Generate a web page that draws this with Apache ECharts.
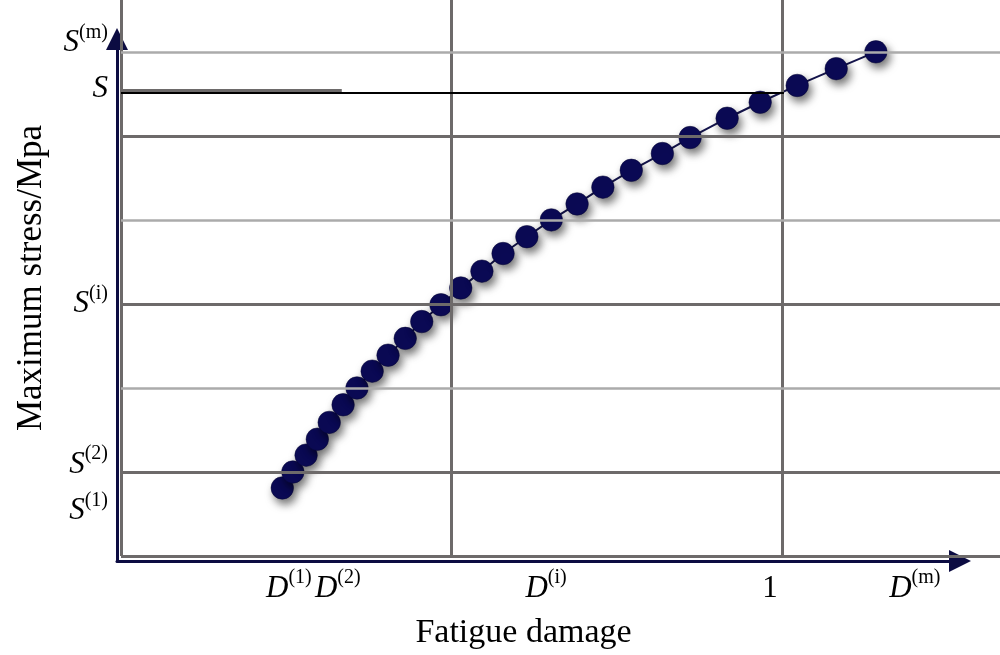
<!DOCTYPE html>
<html><head><meta charset="utf-8">
<script src="https://cdn.jsdelivr.net/npm/echarts@6/dist/echarts.min.js"></script>
<style>html,body{margin:0;padding:0;background:#fff}#c{width:1000px;height:655px}</style>
</head><body><div id="c"></div>
<script>
// Fatigue damage (x) — 1 corresponds to failure
const damage = [0.244, 0.260, 0.280, 0.297, 0.315, 0.336, 0.357, 0.380, 0.404, 0.430,
                0.455, 0.484, 0.514, 0.546, 0.578, 0.614, 0.651, 0.690, 0.729, 0.772,
                0.819, 0.861, 0.917, 0.967, 1.023, 1.082, 1.142];
// Maximum stress (y), arbitrary units
const stress = [0.81, 1.00, 1.20, 1.39, 1.59, 1.80, 2.00, 2.20, 2.39, 2.59,
                2.79, 2.99, 3.19, 3.39, 3.60, 3.80, 4.00, 4.19, 4.39, 4.59,
                4.79, 4.98, 5.21, 5.40, 5.60, 5.80, 6.00];

const xTickValues = [0.254, 0.328, 0.643, 0.982, 1.201];
const xTickMain   = ['D', 'D', 'D', '1', 'D'];
const xTickSup    = ['(1)', '(2)', '(i)', '', '(m)'];

const yTickValues = [0.610, 1.167, 3.075, 5.633, 6.179];
const yTickMain   = ['S', 'S', 'S', 'S', 'S'];
const yTickSup    = ['(1)', '(2)', '(i)', '', '(m)'];

const majorGridY = [0, 1, 3, 5];
const minorGridY = [2, 4, 6];
const gridX = [0, 0.5, 1];
const sLevel = 5.515;
const sShortEnd = 0.334;
const damageOne = 1.003;

const SERIF = '"Liberation Serif", "Times New Roman", serif';
const rich = {
  d: {fontFamily: SERIF, fontStyle: 'italic', fontSize: 31, lineHeight: 44, verticalAlign: 'bottom', color: '#000'},
  n: {fontFamily: SERIF, fontSize: 31, lineHeight: 44, verticalAlign: 'bottom', color: '#000'},
  s: {fontFamily: SERIF, fontSize: 20, lineHeight: 22, verticalAlign: 'top', padding: [8, 0, 0, 0], color: '#000'}
};
function richLabel(main, sup) {
  const m = /^[0-9]/.test(main) ? '{n|' + main + '}' : '{d|' + main + '}';
  return sup ? m + '{s|' + sup + '}' : m;
}
function pick(vals, mains, sups, v) {
  let best = 0;
  for (let i = 1; i < vals.length; i++) if (Math.abs(vals[i] - v) < Math.abs(vals[best] - v)) best = i;
  return richLabel(mains[best], sups[best]);
}

const DARK = '#6d6a6a', LIGHT = '#ababab', NAVY = '#0c0c42';
const lines = [];
gridX.forEach(v => lines.push({xAxis: v, lineStyle: {color: DARK, width: 3, type: 'solid'}}));
majorGridY.forEach(v => lines.push({yAxis: v, lineStyle: {color: DARK, width: 3, type: 'solid'}}));
minorGridY.forEach(v => lines.push({yAxis: v, lineStyle: {color: LIGHT, width: 2.5, type: 'solid'}}));
lines.push([{coord: [0, sLevel + 0.03], lineStyle: {color: DARK, width: 3, type: 'solid'}}, {coord: [sShortEnd, sLevel + 0.03]}]);
lines.push([{coord: [0, sLevel], lineStyle: {color: '#000', width: 2, type: 'solid'}}, {coord: [damageOne, sLevel]}]);
lines.push([{coord: [damageOne, sLevel], lineStyle: {color: '#000', width: 2.5, type: 'solid'}}, {coord: [damageOne, -0.03]}]);

const chart = echarts.init(document.getElementById('c'), null, {renderer: 'canvas'});
chart.setOption({
  animation: false,
  backgroundColor: '#fff',
  grid: [
    {left: 121, right: 0, top: 0, bottom: 96.5},
    {left: 117, right: 40, top: 39, bottom: 94}
  ],
  xAxis: [
    {gridIndex: 0, type: 'value', min: 0, max: 1.3298,
     axisLine: {show: false}, axisTick: {show: false}, splitLine: {show: false},
     axisLabel: {customValues: xTickValues, margin: 4, rich: rich,
                 formatter: v => pick(xTickValues, xTickMain, xTickSup, v)},
     name: 'Fatigue damage', nameLocation: 'middle', nameGap: 60,
     nameTextStyle: {fontFamily: SERIF, fontSize: 34, color: '#000', padding: [0, 74, 0, 0]}},
    {gridIndex: 1, type: 'value', min: 0, max: 1,
     axisLine: {show: true, symbol: ['none', 'triangle'], symbolSize: [22, 22],
                lineStyle: {color: NAVY, width: 3}},
     axisTick: {show: false}, axisLabel: {show: false}, splitLine: {show: false}}
  ],
  yAxis: [
    {gridIndex: 0, type: 'value', min: 0, max: 6.617,
     axisLine: {show: false}, axisTick: {show: false}, splitLine: {show: false},
     axisLabel: {customValues: yTickValues, margin: 13, rich: rich,
                 formatter: v => pick(yTickValues, yTickMain, yTickSup, v)},
     name: 'Maximum stress/Mpa', nameLocation: 'middle', nameGap: 72, nameRotate: 90,
     nameTextStyle: {fontFamily: SERIF, fontSize: 35, color: '#000'}},
    {gridIndex: 1, type: 'value', min: 0, max: 1,
     axisLine: {show: true, symbol: ['none', 'triangle'], symbolSize: [22, 22],
                lineStyle: {color: NAVY, width: 3}},
     axisTick: {show: false}, axisLabel: {show: false}, splitLine: {show: false}}
  ],
  series: [
    {type: 'line', xAxisIndex: 0, yAxisIndex: 0, data: [], z: 1, clip: false, silent: true,
     markLine: {silent: true, symbol: ['none', 'none'], label: {show: false}, animation: false,
                emphasis: {disabled: true}, data: lines}},
    {type: 'line', xAxisIndex: 0, yAxisIndex: 0, z: 3, clip: false,
     data: damage.map((d, i) => [d, stress[i]]),
     symbol: 'circle', symbolSize: 22.5, showSymbol: true,
     lineStyle: {color: '#15154d', width: 2},
     itemStyle: {color: '#0b0a55', borderColor: '#070735', borderWidth: 0.5,
                 shadowBlur: 8, shadowOffsetX: 3, shadowOffsetY: 5, shadowColor: 'rgba(0,0,0,0.55)'}}
  ]
});
</script></body></html>
